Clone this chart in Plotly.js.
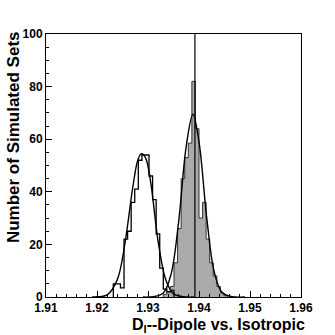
<!DOCTYPE html>
<html>
<head>
<meta charset="utf-8">
<script src="https://cdn.plot.ly/plotly-3.0.1.min.js"></script>
<style>
  html, body { margin: 0; padding: 0; background: #fff; }
  #chart { width: 335px; height: 335px; }
</style>
</head>
<body>
<div id="chart"></div>
<script>
// histogram bins (same grid for both samples)
var binStart = 1.9232;
var binWidth = 0.0007;

// isotropic sample, white histogram, bins from binStart
var isoCounts = [5, 5, 3.5, 22, 25, 36, 41, 52, 54, 54, 46, 37, 24, 11, 3, 2, 2.5];

// dipole sample, grey histogram, starts 14 bins later
var dipOffset = 14;
var dipCounts = [1, 2, 4, 13, 26, 45, 53, 58.5, 82, 64, 30, 36, 22, 13, 8, 4, 1.5, 0.5];

// fitted curves
var isoFitX = [1.9190, 1.9200, 1.9220, 1.9240, 1.9255, 1.9270, 1.9280, 1.9287, 1.9295, 1.9305, 1.9320, 1.9335, 1.9350, 1.9370, 1.9390];
var isoFitY = [0, 0.1, 0.8, 6.7, 20.7, 41.5, 52, 54.5, 53, 44, 21, 6.5, 1.2, 0.1, 0];

var dipFitX = [1.9290, 1.9310, 1.9330, 1.9345, 1.9360, 1.9375, 1.9388, 1.9400, 1.9415, 1.9430, 1.9445, 1.9465, 1.9490];
var dipFitY = [0, 0.1, 1.5, 8.5, 28.5, 57.4, 69.5, 59, 30.4, 9.4, 1.8, 0.1, 0];

// measured value (vertical line)
var measured = 1.9392;

var xTicks = [1.91, 1.92, 1.93, 1.94, 1.95, 1.96];
var xTickText = ['1.91', '1.92', '1.93', '1.94', '1.95', '1.96'];

function steps(offset, counts) {
  var x0 = binStart + offset * binWidth;
  var xs = [x0], ys = [0];
  for (var i = 0; i < counts.length; i++) {
    xs.push(x0 + i * binWidth);
    ys.push(counts[i]);
  }
  xs.push(x0 + counts.length * binWidth);
  ys.push(0);
  return {x: xs, y: ys};
}

var dip = steps(dipOffset, dipCounts);
var iso = steps(0, isoCounts);

var traces = [
  {
    x: dip.x, y: dip.y,
    type: 'scatter', mode: 'lines',
    line: {shape: 'hv', color: '#333', width: 1},
    fill: 'tozeroy', fillcolor: '#aaaaaa',
    hoverinfo: 'skip'
  },
  {
    x: iso.x, y: iso.y,
    type: 'scatter', mode: 'lines',
    line: {shape: 'hv', color: '#000', width: 1.3},
    hoverinfo: 'skip'
  },
  {
    x: isoFitX, y: isoFitY,
    type: 'scatter', mode: 'lines',
    line: {shape: 'spline', color: '#000', width: 1.4}
  },
  {
    x: dipFitX, y: dipFitY,
    type: 'scatter', mode: 'lines',
    line: {shape: 'spline', color: '#000', width: 1.4}
  }
];

var tickFont = {family: 'Liberation Sans, Arial, sans-serif', size: 12, color: '#000', weight: 'bold'};
var titleFont = {family: 'Liberation Sans, Arial, sans-serif', size: 17, color: '#000', weight: 'bold'};

var layout = {
  width: 335,
  height: 335,
  margin: {l: 46, r: 34, t: 34, b: 38},
  paper_bgcolor: '#fff',
  plot_bgcolor: '#fff',
  showlegend: false,
  xaxis: {
    range: [1.91, 1.96],
    tickvals: xTicks,
    ticktext: xTickText,
    ticks: 'inside',
    ticklen: 6,
    tickcolor: '#000',
    minor: {dtick: 0.002, tick0: 1.91, ticks: 'inside', ticklen: 3, tickcolor: '#000'},
    showgrid: false,
    zeroline: false,
    showline: true,
    mirror: true,
    linecolor: '#000',
    linewidth: 1,
    tickfont: tickFont
  },
  yaxis: {
    range: [0, 100],
    dtick: 20,
    ticks: 'inside',
    ticklen: 6,
    tickcolor: '#000',
    minor: {dtick: 5, ticks: 'inside', ticklen: 3, tickcolor: '#000'},
    showgrid: false,
    zeroline: false,
    showline: true,
    mirror: true,
    linecolor: '#000',
    linewidth: 1,
    tickfont: tickFont
  },
  shapes: [
    {type: 'line', xref: 'x', yref: 'paper', x0: measured, x1: measured, y0: 0, y1: 1,
     line: {color: '#000', width: 1.2}}
  ],
  annotations: [
    {
      text: 'D<sub>I</sub>--Dipole vs. Isotropic',
      xref: 'paper', yref: 'paper', x: 1, y: 0,
      xanchor: 'right', yanchor: 'top', xshift: 6, yshift: -17,
      showarrow: false,
      font: {family: 'Liberation Sans, Arial, sans-serif', size: 16, color: '#000', weight: 'bold'}
    },
    {
      text: 'Number of Simulated Sets',
      xref: 'paper', yref: 'paper', x: 0, y: 0.608,
      xanchor: 'center', yanchor: 'middle', xshift: -33,
      textangle: -90,
      showarrow: false,
      font: titleFont
    }
  ]
};

Plotly.newPlot('chart', traces, layout, {displayModeBar: false, staticPlot: true});
</script>
</body>
</html>
